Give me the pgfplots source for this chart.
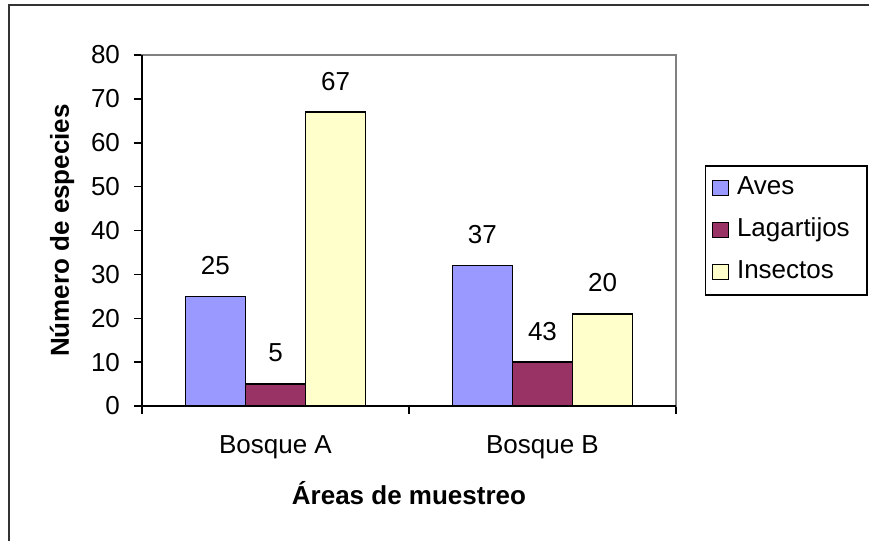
\documentclass[border=0pt]{standalone}
\usepackage{fontspec}
\setmainfont{Liberation Sans}
\usepackage{pgfplots}
\usepackage{pgfplotstable}
\pgfplotsset{compat=1.18}
\definecolor{aves}{HTML}{9999FF}
\definecolor{lag}{HTML}{993366}
\definecolor{ins}{HTML}{FFFFCC}
\pgfplotstableread{
x aves lag ins la ll li
0 25 5 67 25 5 67
1 32 10 21 37 43 20
}\data
\newcommand{\fs}{\fontsize{13}{15}\selectfont}
\pgfplotsset{
  mybar/.style={draw=black, line width=0.75pt,
    legend image code/.code={\draw[##1, line width=0.7pt] (0pt,-3.75pt) rectangle (8pt,3.75pt); \path (10pt,0pt);},
    nodes near coords, point meta=explicit symbolic,
    every node near coord/.append style={anchor=center, yshift=15.5pt, font=\fs, black}},
}
\begin{document}
\begin{tikzpicture}
\useasboundingbox (0,0) rectangle (434.5pt,270.5pt);
\draw[line width=1.2pt, black!80] (4.5pt,-1pt) -- (4.5pt,268pt) -- (436pt,268pt);
\begin{axis}[
  at={(71pt,67.5pt)}, anchor=south west,
  scale only axis, width=267pt, height=175.5pt,
  ybar, bar width=0.225,
  xmin=-0.5, xmax=1.5, ymin=0, ymax=80,
  xtick={0,1}, xticklabels={Bosque A, Bosque B},
  minor xtick={-0.5,0.5,1.5},
  ytick={0,10,...,80},
  tick align=outside, tick pos=left,
  major tick length=4pt, minor tick length=4pt,
  major x tick style={draw=none},
  minor x tick style={black, line width=0.75pt},
  y tick style={black, line width=0.75pt},
  axis line style={draw=gray, line width=0.6pt},
  tick label style={font=\fs, black},
  xticklabel style={yshift=-7.5pt},
  yticklabel style={xshift=-3.5pt},
  /pgf/number format/assume math mode=true,
  label style={font=\fs\bfseries},
  xlabel={Áreas de muestreo},
  ylabel={Número de especies},
  xlabel style={at={(axis description cs:0.5,-0.248)}, anchor=center},
  ylabel style={at={(axis description cs:-0.1498,0.5)}, anchor=center},
  clip=false,
  legend style={at={(1.054,0.6866)}, anchor=north west, draw=black, line width=0.75pt,
    font=\fs, inner xsep=3pt, inner ysep=3pt, row sep=4.5pt,
    nodes={text height=9.5pt, text depth=3pt, inner sep=2pt}},
  legend cell align=left,
]
\addplot[mybar, fill=aves, bar shift=-0.225] table[x=x, y=aves, meta=la] {\data};
\addlegendentry{\makebox[60pt][l]{Aves}}
\addplot[mybar, fill=lag, bar shift=0] table[x=x, y=lag, meta=ll] {\data};
\addlegendentry{Lagartijos}
\addplot[mybar, fill=ins, bar shift=0.225] table[x=x, y=ins, meta=li] {\data};
\addlegendentry{Insectos}
\draw[black, line width=0.8pt] (rel axis cs:0,1) -- (rel axis cs:0,0) -- (rel axis cs:1,0);
\end{axis}
\end{tikzpicture}
\end{document}
